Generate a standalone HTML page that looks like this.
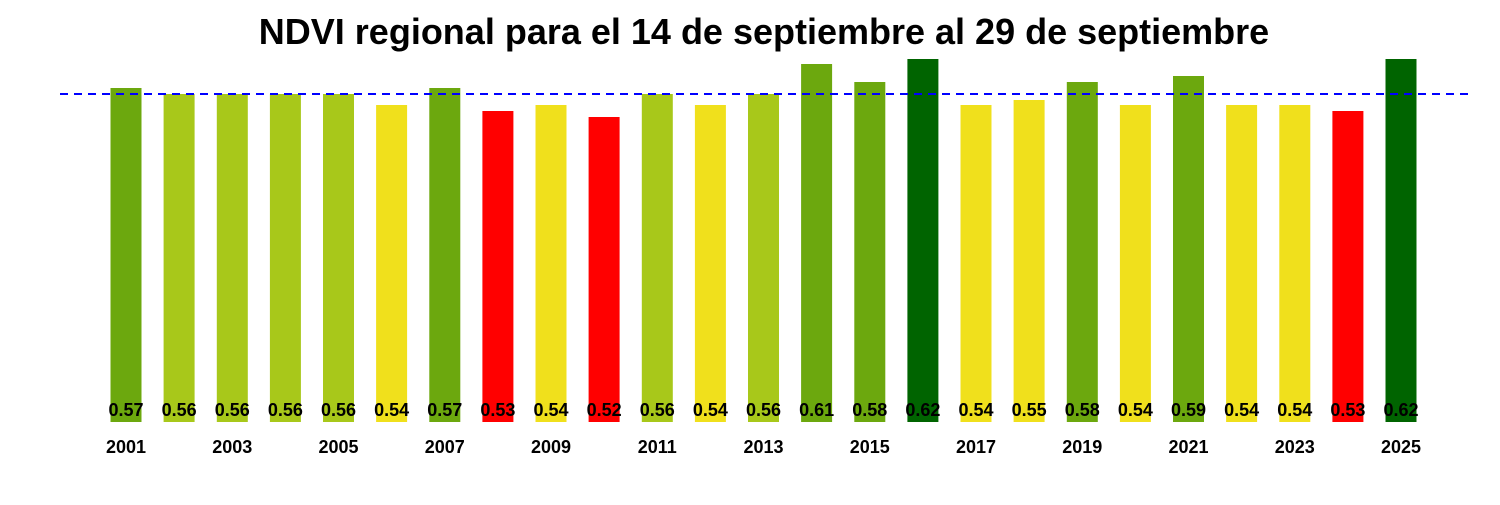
<!DOCTYPE html>
<html><head><meta charset="utf-8"><style>body{margin:0;background:#fff}</style></head><body>
<svg width="1500" height="500" xmlns="http://www.w3.org/2000/svg" font-family="Liberation Sans, Arial, sans-serif">
<rect width="1500" height="500" fill="#fff"/>
<text x="764" y="44" text-anchor="middle" font-size="36" font-weight="bold">NDVI regional para el 14 de septiembre al 29 de septiembre</text>
<g>
<rect x="110.5" y="88" width="31" height="334" fill="#6ca80e"/>
<rect x="163.6" y="94" width="31" height="328" fill="#a8c81a"/>
<rect x="216.8" y="94" width="31" height="328" fill="#a8c81a"/>
<rect x="269.9" y="94" width="31" height="328" fill="#a8c81a"/>
<rect x="323" y="94" width="31" height="328" fill="#a8c81a"/>
<rect x="376.1" y="105" width="31" height="317" fill="#f0e01c"/>
<rect x="429.3" y="88" width="31" height="334" fill="#6ca80e"/>
<rect x="482.4" y="111" width="31" height="311" fill="#ff0000"/>
<rect x="535.5" y="105" width="31" height="317" fill="#f0e01c"/>
<rect x="588.6" y="117" width="31" height="305" fill="#ff0000"/>
<rect x="641.8" y="94" width="31" height="328" fill="#a8c81a"/>
<rect x="694.9" y="105" width="31" height="317" fill="#f0e01c"/>
<rect x="748" y="94" width="31" height="328" fill="#a8c81a"/>
<rect x="801.1" y="64" width="31" height="358" fill="#6ca80e"/>
<rect x="854.3" y="82" width="31" height="340" fill="#6ca80e"/>
<rect x="907.4" y="59" width="31" height="363" fill="#006400"/>
<rect x="960.5" y="105" width="31" height="317" fill="#f0e01c"/>
<rect x="1013.6" y="100" width="31" height="322" fill="#f0e01c"/>
<rect x="1066.8" y="82" width="31" height="340" fill="#6ca80e"/>
<rect x="1119.9" y="105" width="31" height="317" fill="#f0e01c"/>
<rect x="1173" y="76" width="31" height="346" fill="#6ca80e"/>
<rect x="1226.1" y="105" width="31" height="317" fill="#f0e01c"/>
<rect x="1279.3" y="105" width="31" height="317" fill="#f0e01c"/>
<rect x="1332.4" y="111" width="31" height="311" fill="#ff0000"/>
<rect x="1385.5" y="59" width="31" height="363" fill="#006400"/>
</g>
<line x1="60" y1="94" x2="1470" y2="94" stroke="#0000ff" stroke-width="2" stroke-dasharray="8,6"/>
<g font-size="18" font-weight="bold" text-anchor="middle">
<text x="126" y="416">0.57</text>
<text x="179.1" y="416">0.56</text>
<text x="232.3" y="416">0.56</text>
<text x="285.4" y="416">0.56</text>
<text x="338.5" y="416">0.56</text>
<text x="391.6" y="416">0.54</text>
<text x="444.8" y="416">0.57</text>
<text x="497.9" y="416">0.53</text>
<text x="551" y="416">0.54</text>
<text x="604.1" y="416">0.52</text>
<text x="657.3" y="416">0.56</text>
<text x="710.4" y="416">0.54</text>
<text x="763.5" y="416">0.56</text>
<text x="816.6" y="416">0.61</text>
<text x="869.8" y="416">0.58</text>
<text x="922.9" y="416">0.62</text>
<text x="976" y="416">0.54</text>
<text x="1029.1" y="416">0.55</text>
<text x="1082.3" y="416">0.58</text>
<text x="1135.4" y="416">0.54</text>
<text x="1188.5" y="416">0.59</text>
<text x="1241.6" y="416">0.54</text>
<text x="1294.8" y="416">0.54</text>
<text x="1347.9" y="416">0.53</text>
<text x="1401" y="416">0.62</text>
</g>
<g font-size="18" font-weight="bold" text-anchor="middle">
<text x="126" y="453">2001</text>
<text x="232.3" y="453">2003</text>
<text x="338.5" y="453">2005</text>
<text x="444.8" y="453">2007</text>
<text x="551" y="453">2009</text>
<text x="657.3" y="453">2011</text>
<text x="763.5" y="453">2013</text>
<text x="869.8" y="453">2015</text>
<text x="976" y="453">2017</text>
<text x="1082.3" y="453">2019</text>
<text x="1188.5" y="453">2021</text>
<text x="1294.8" y="453">2023</text>
<text x="1401" y="453">2025</text>
</g>
</svg>
</body></html>
